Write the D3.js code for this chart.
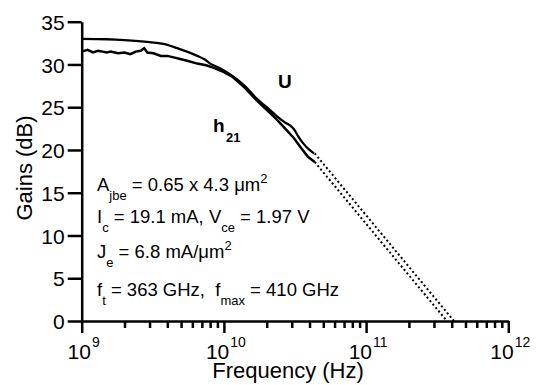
<html>
<head>
<meta charset="utf-8">
<script src="https://cdnjs.cloudflare.com/ajax/libs/d3/7.8.5/d3.min.js"></script>
<style>
  body { margin: 0; background: #fff; }
  text { font-family: "Liberation Sans", Arial, sans-serif; fill: #000; }
</style>
</head>
<body>
<script>
// measured U (unilateral gain), GHz / dB
var uFreqGHz = [1, 1.5, 2, 3, 4, 4.7, 5.5, 6.5, 7.3, 8, 9, 10, 11.6, 14, 17, 20, 23.4, 27, 30, 31.5, 33, 36, 40, 43];
var uGain    = [33.0, 32.95, 32.85, 32.6, 32.3, 31.9, 31.5, 31.0, 30.6, 30.1, 29.7, 29.3, 28.6, 27.5, 26.0, 25.0, 24.0, 23.2, 22.7, 22.3, 21.7, 20.8, 20.0, 19.6];

// measured h21 (current gain), noisy at low frequency
var hFreqGHz = [1, 1.1, 1.2, 1.3, 1.4, 1.5, 1.6, 1.8, 2.0, 2.2, 2.4, 2.6, 2.75, 2.9, 3.2, 3.6, 4.0, 4.5, 5.0, 5.6, 6.5, 7.5, 8.5, 10, 11.6, 14, 17, 20, 23.4, 27, 31, 35, 39, 43.5];
var hGain    = [31.5, 31.7, 31.4, 31.6, 31.5, 31.4, 31.5, 31.3, 31.4, 31.2, 31.5, 31.6, 31.9, 31.4, 31.3, 31.0, 31.0, 30.8, 30.6, 30.4, 30.1, 29.9, 29.6, 29.1, 28.5, 27.3, 25.8, 24.7, 23.6, 22.5, 21.4, 20.2, 19.2, 18.6];

// -20 dB/dec extrapolations (ft, fmax)
var extFreqGHz = [[43.5, 370], [43.5, 415]];
var extGain    = [[18.6, 0], [19.6, 0]];

var yTicks = [0, 5, 10, 15, 20, 25, 30, 35];
var xDecades = [9, 10, 11, 12];

var W = 536, H = 385;
var svg = d3.select("body").append("svg").attr("width", W).attr("height", H);

var x = d3.scaleLog().domain([1e9, 1e12]).range([81.7, 508.3]);
var y = d3.scaleLinear().domain([0, 35]).range([321, 21.7]);

// y axis
var yAxis = svg.append("g")
  .attr("transform", "translate(" + x(1e9) + ",0)")
  .call(d3.axisLeft(y).tickValues(yTicks).tickSize(14).tickSizeOuter(0).tickPadding(3));
yAxis.select(".domain").attr("stroke-width", 2.5);
yAxis.selectAll(".tick line").attr("stroke-width", 2.5);
yAxis.selectAll(".tick text").attr("font-size", 21).attr("font-family", "Liberation Sans, Arial, sans-serif").attr("dy", "0.36em");

// x axis with minor ticks
var xTickVals = [];
xDecades.forEach(function(d) {
  for (var m = 1; m < 10; m++) {
    if (d === 12 && m > 1) break;
    xTickVals.push(m * Math.pow(10, d));
  }
});
var xAxis = svg.append("g")
  .attr("transform", "translate(0," + y(0) + ")")
  .call(d3.axisBottom(x).tickValues(xTickVals).tickSize(7).tickSizeOuter(0).tickFormat(""));
xAxis.select(".domain").attr("stroke-width", 2.5);
xAxis.selectAll(".tick line")
  .attr("stroke-width", 2.5)
  .attr("y2", function(d) { return Math.abs(Math.log10(d) - Math.round(Math.log10(d))) < 1e-6 ? 12 : 7; });

// decade labels 10^n, base and exponent as separate texts, centred together
xDecades.forEach(function(d) {
  var base = svg.append("text").attr("y", 359).attr("font-size", 21).text("10");
  var sup = svg.append("text").attr("y", 347).attr("font-size", 14).text(d);
  var wb = base.node().getComputedTextLength();
  var ws = sup.node().getComputedTextLength();
  var x0 = x(Math.pow(10, d)) + 2 - (wb + ws + 1) / 2;
  base.attr("x", x0);
  sup.attr("x", x0 + wb + 1);
});

// axis titles
svg.append("text")
  .attr("x", 288).attr("y", 378)
  .attr("text-anchor", "middle")
  .attr("font-size", 22)
  .text("Frequency (Hz)");

svg.append("text")
  .attr("transform", "translate(32,168) rotate(-90)")
  .attr("text-anchor", "middle")
  .attr("font-size", 22)
  .text("Gains (dB)");

// curves
var line = d3.line()
  .x(function(d) { return x(d[0] * 1e9); })
  .y(function(d) { return y(d[1]); });

svg.append("path")
  .datum(uFreqGHz.map(function(f, i) { return [f, uGain[i]]; }))
  .attr("d", line.curve(d3.curveMonotoneX))
  .attr("fill", "none").attr("stroke", "#000").attr("stroke-width", 2.3);

svg.append("path")
  .datum(hFreqGHz.map(function(f, i) { return [f, hGain[i]]; }))
  .attr("d", line.curve(d3.curveLinear))
  .attr("fill", "none").attr("stroke", "#000").attr("stroke-width", 2.5);

extFreqGHz.forEach(function(fs, k) {
  svg.append("path")
    .datum(fs.map(function(f, i) { return [f, extGain[k][i]]; }))
    .attr("d", line.curve(d3.curveLinear))
    .attr("fill", "none").attr("stroke", "#000")
    .attr("stroke-width", 2).attr("stroke-dasharray", "2,2.5");
});

// curve labels
svg.append("text").attr("x", 278).attr("y", 88)
  .attr("font-size", 19).attr("font-weight", "bold").text("U");
svg.append("text").attr("x", 213).attr("y", 132)
  .attr("font-size", 19).attr("font-weight", "bold").text("h");
svg.append("text").attr("x", 226).attr("y", 142)
  .attr("font-size", 13).attr("font-weight", "bold").text("21");

// annotation block: [text, kind] runs, kind: n normal, b sub, p sup
var annoLines = [
  [["A", "n"], ["jbe", "b"], [" = 0.65 x 4.3 \u03bcm", "n"], ["2", "p"]],
  [["I", "n"], ["c", "b"], [" = 19.1 mA, V", "n"], ["ce", "b"], [" = 1.97 V", "n"]],
  [["J", "n"], ["e", "b"], [" = 6.8 mA/\u03bcm", "n"], ["2", "p"]],
  [["f", "n"], ["t", "b"], [" = 363 GHz,  f", "n"], ["max", "b"], [" = 410 GHz", "n"]]
];
var annoY = [191, 223, 258, 296];

annoLines.forEach(function(runs, i) {
  var t = svg.append("text").attr("x", 97).attr("y", annoY[i])
    .attr("font-size", 18.5).attr("xml:space", "preserve").style("white-space", "pre");
  var shift = 0;
  runs.forEach(function(r) {
    var target = r[1] === "b" ? 9 : (r[1] === "p" ? -8 : 0);
    t.append("tspan")
      .attr("dy", target - shift)
      .attr("font-size", r[1] === "n" ? 18.5 : 13)
      .text(r[0]);
    shift = target;
  });
});
</script>
</body>
</html>
